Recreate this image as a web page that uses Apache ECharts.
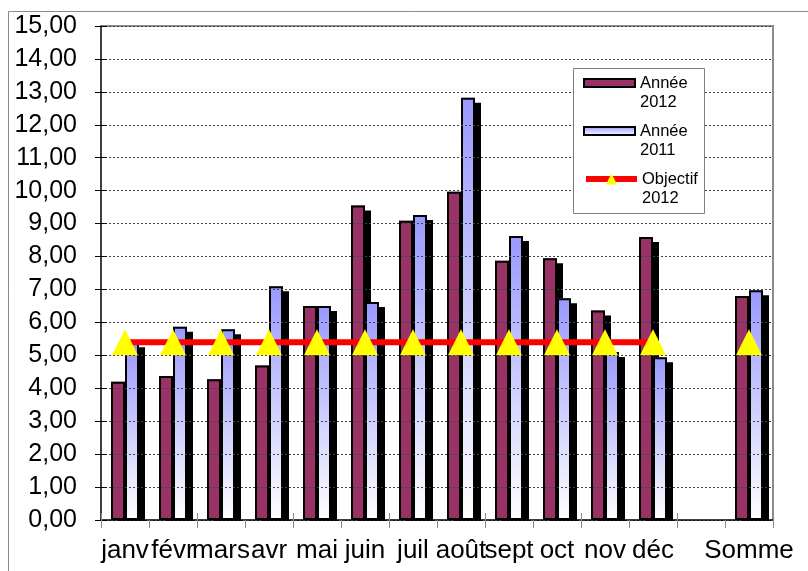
<!DOCTYPE html>
<html><head><meta charset="utf-8">
<script src="https://cdn.jsdelivr.net/npm/echarts@6/dist/echarts.min.js"></script>
<style>html,body{margin:0;padding:0;background:#fff}#c{width:808px;height:571px}</style>
</head><body><div id="c"></div>
<script>
const categories = ['janv','févr','mars','avr','mai','juin','juil','août','sept','oct','nov','déc','','Somme'];
const annee2012 = [4.20,4.37,4.27,4.69,6.50,9.55,9.09,9.97,7.87,7.95,6.36,8.59,null,6.80];
const annee2011 = [5.40,5.87,5.79,7.10,6.50,6.62,9.26,12.82,8.62,6.73,5.10,4.94,null,6.98];
const objectif2012 = [5.4,5.4,5.4,5.4,5.4,5.4,5.4,5.4,5.4,5.4,5.4,5.4,null,5.4];
const yTickLabels = ['0,00','1,00','2,00','3,00','4,00','5,00','6,00','7,00','8,00','9,00','10,00','11,00','12,00','13,00','14,00','15,00'];
const seriesNames = ['Année 2012','Année 2011','Objectif 2012'];

const FONT = 'Liberation Sans, Arial, sans-serif';
const chart = echarts.init(document.getElementById('c'), null, {renderer:'canvas'});
const barShadow = {shadowColor:'#000', shadowBlur:0, shadowOffsetX:6, shadowOffsetY:5, borderWidth:0};
const blueGrad = {type:'linear', x:0, y:0, x2:0, y2:1,
  colorStops:[{offset:0, color:'#9999ff'},{offset:1, color:'#ffffff'}]};
const legendText = {fontSize:16.5, lineHeight:19, fontFamily:FONT, color:'#000'};
chart.setOption({
  animation:false,
  backgroundColor:'#fff',
  grid:{left:101, right:35, top:26, bottom:51, containLabel:false},
  xAxis:[{
    type:'category', data:categories, position:'bottom', z:10,
    axisLine:{lineStyle:{color:'#000', width:1.5}},
    axisTick:{show:true, alignWithLabel:false, length:8, lineStyle:{color:'#8c8c8c', width:1}},
    axisLabel:{interval:0, fontSize:26, fontFamily:FONT, color:'#000', margin:18},
    splitLine:{show:false}
  },{
    type:'category', data:categories, position:'bottom', z:10,
    axisLine:{show:false},
    axisTick:{show:true, inside:true, length:7, lineStyle:{color:'#8c8c8c', width:1}},
    axisLabel:{show:false}, splitLine:{show:false}
  }],
  yAxis:[{
    type:'value', min:0, max:15, interval:1, position:'left', z:10,
    axisLine:{show:true, lineStyle:{color:'#000', width:1.5}},
    axisTick:{show:true, length:6, lineStyle:{color:'#000', width:1}},
    axisLabel:{fontSize:25, fontFamily:FONT, color:'#000', margin:24,
      formatter:(v)=>yTickLabels[Math.round(v)]},
    splitLine:{show:true, lineStyle:{color:'#444', width:1, type:[2,2]}}
  },{
    type:'value', min:0, max:15, interval:1, position:'left', z:10,
    axisLine:{show:false},
    axisTick:{show:true, inside:true, length:6, lineStyle:{color:'#000', width:1}},
    axisLabel:{show:false}, splitLine:{show:false}
  }],
  legend:[{
    orient:'vertical', left:583, top:54.5, itemWidth:51, itemHeight:8, itemGap:-9, padding:0, z:20,
    data:[{name:seriesNames[0], icon:'rect'},{name:seriesNames[1], icon:'rect'}],
    formatter:(n)=>'\n'+n.replace(' ','\n'),
    textStyle:legendText,
    itemStyle:{borderColor:'#000', borderWidth:2, shadowColor:'transparent', shadowBlur:0, shadowOffsetX:0, shadowOffsetY:0}
  },{
    orient:'vertical', left:583, top:150.5, itemWidth:51, itemHeight:14, padding:0, z:20,
    data:[{name:seriesNames[2]}],
    formatter:(n)=>'\n'+n.replace(' ','\n'),
    textStyle:legendText,
    lineStyle:{width:6},
    itemStyle:{borderWidth:0, shadowColor:'transparent'}
  }],
  graphic:[
    {type:'rect', z:1, shape:{x:8.5, y:11.5, width:820, height:600}, style:{fill:'none', stroke:'#8a8a8a', lineWidth:1}},
    {type:'polyline', z:1, shape:{points:[[101,26],[773,26],[773,520]]}, style:{fill:'none', stroke:'#8c8c8c', lineWidth:2}},
    {type:'rect', z:5, shape:{x:101.5, y:521, width:690, height:9}, style:{fill:'#fff'}},
    {type:'rect', z:15, shape:{x:573.5, y:68.5, width:131, height:145}, style:{fill:'#fff', stroke:'#808080', lineWidth:1}}
  ],
  series:[
    {name:seriesNames[0], type:'bar', data:annee2012, barWidth:14, barGap:'0%',
      itemStyle:Object.assign({color:'#993366'}, barShadow)},
    {name:seriesNames[1], type:'bar', data:annee2011, barWidth:14, barGap:'0%',
      itemStyle:Object.assign({color:blueGrad}, barShadow)},
    {name:seriesNames[0], type:'bar', data:annee2012, xAxisIndex:1, barWidth:14, barGap:'0%', z:3,
      itemStyle:{color:'transparent', borderColor:'#000', borderWidth:2}},
    {name:seriesNames[1], type:'bar', data:annee2011, xAxisIndex:1, barWidth:14, barGap:'0%', z:3,
      itemStyle:{color:'transparent', borderColor:'#000', borderWidth:2}},
    {name:seriesNames[2], type:'line', data:objectif2012, connectNulls:false, showAllSymbol:true,
      symbol:'triangle', symbolSize:[26,26], z:4,
      lineStyle:{color:'#ff0000', width:6},
      itemStyle:{color:'#ffff00', borderWidth:0}}
  ]
});
</script></body></html>
